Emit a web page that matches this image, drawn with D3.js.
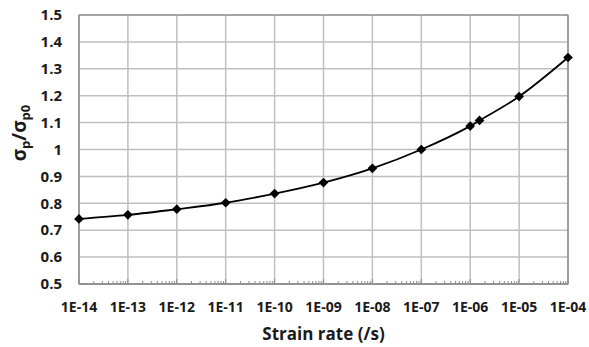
<!DOCTYPE html>
<html>
<head>
<meta charset="utf-8">
<script src="https://cdn.jsdelivr.net/npm/d3@7"></script>
<style>
  body { margin: 0; background: #fff; }
  text { font-family: "Open Sans", sans-serif; font-weight: bold; fill: #1a1a1a; }
</style>
</head>
<body>
<div id="chart"></div>
<script>
'use strict';

const width = 589;
const height = 347;
const margin = { top: 15, right: 21, bottom: 63, left: 79 };

// strain rate (/s) and normalised stress
const strainRates = [1e-14, 1e-13, 1e-12, 1e-11, 1e-10, 1e-9, 1e-8, 1e-7, 1e-6, 1.55e-6, 1e-5, 1e-4];
const stressRatio = [0.742, 0.757, 0.778, 0.802, 0.836, 0.877, 0.930, 1.000, 1.087, 1.108, 1.197, 1.342];
const xTickLabels = ["1E-14", "1E-13", "1E-12", "1E-11", "1E-10", "1E-09", "1E-08", "1E-07", "1E-06", "1E-05", "1E-04"];
const yTicks = [0.5, 0.6, 0.7, 0.8, 0.9, 1, 1.1, 1.2, 1.3, 1.4, 1.5];

const data = strainRates.map((r, i) => ({ rate: r, value: stressRatio[i] }));

const svg = d3.select("#chart")
    .append("svg")
    .attr("width", width)
    .attr("height", height);

const x = d3.scaleLog()
    .domain([1e-14, 1e-4])
    .range([margin.left, width - margin.right]);

const y = d3.scaleLinear()
    .domain([0.5, 1.5])
    .range([height - margin.bottom, margin.top]);

const majors = xTickLabels.map(d => +d);
const [x0, x1] = x.range();
const [yb, ytop] = y.range();

// grid as one path each way
const hPath = yTicks.map(v => `M${x0},${y(v)}H${x1}`).join("");
const vPath = majors.map(v => `M${x(v)},${yb}V${ytop}`).join("");

svg.append("path")
    .attr("d", hPath + vPath)
    .attr("fill", "none")
    .attr("stroke", "#bfbfbf")
    .attr("stroke-width", 1.5);

// plot border
svg.append("path")
    .attr("d", `M${x0},${ytop}H${x1}V${yb}H${x0}Z`)
    .attr("fill", "none")
    .attr("stroke", "#7f7f7f")
    .attr("stroke-width", 1.2);

// bottom axis with inward log ticks
const minor = [];
majors.slice(0, -1).forEach(m => {
    for (let k = 2; k <= 9; k++) minor.push(m * k);
});

const xAxis = svg.append("g")
    .attr("transform", `translate(0,${yb})`);

xAxis.append("line")
    .attr("x1", x0)
    .attr("x2", x1)
    .style("stroke", "#8c8c8c")
    .style("stroke-width", "1.5px");

xAxis.selectAll(".minor")
    .data(minor)
    .join("line")
    .attr("class", "minor")
    .attr("x1", d => x(d))
    .attr("x2", d => x(d))
    .attr("y1", 0)
    .attr("y2", -3)
    .style("stroke", "#8c8c8c");

xAxis.selectAll(".major")
    .data(majors)
    .join("line")
    .attr("class", "major")
    .attr("x1", d => x(d))
    .attr("x2", d => x(d))
    .attr("y1", 0)
    .attr("y2", -5)
    .style("stroke", "#8c8c8c");

xAxis.selectAll(".lbl")
    .data(xTickLabels)
    .join("text")
    .attr("class", "lbl")
    .attr("x", d => x(+d))
    .attr("y", 28)
    .attr("text-anchor", "middle")
    .style("font-size", "14px")
    .text(d => d);

// y tick labels
svg.append("g")
    .selectAll("text")
    .data(yTicks)
    .join("text")
    .attr("x", 62)
    .attr("y", d => y(d))
    .attr("dy", "0.35em")
    .attr("text-anchor", "end")
    .style("font-size", "15px")
    .text(d => d3.format("")(d));

// curve
const line = d3.line()
    .x(d => x(d.rate))
    .y(d => y(d.value))
    .curve(d3.curveCatmullRom.alpha(0.5));

svg.append("path")
    .datum(data)
    .attr("d", line)
    .style("fill", "none")
    .style("stroke", "#000")
    .style("stroke-width", "1.8px");

svg.append("g")
    .selectAll("path")
    .data(data)
    .join("path")
    .attr("transform", d => `translate(${x(d.rate)},${y(d.value)})`)
    .attr("d", d3.symbol(d3.symbolDiamond2, 60))
    .style("fill", "#000");

// axis titles
svg.append("text")
    .attr("x", (x0 + x1) / 2)
    .attr("y", 340)
    .attr("text-anchor", "middle")
    .style("font-size", "17px")
    .text("Strain rate (/s)");

const ytitle = svg.append("text")
    .attr("transform", "translate(26,133) rotate(-90)")
    .attr("text-anchor", "middle")
    .style("font-size", "19px");
ytitle.append("tspan").text("σ");
ytitle.append("tspan").attr("dy", 4).style("font-size", "13px").text("p");
ytitle.append("tspan").attr("dy", -4).text("/σ");
ytitle.append("tspan").attr("dy", 4).style("font-size", "13px").text("p0");
</script>
</body>
</html>
